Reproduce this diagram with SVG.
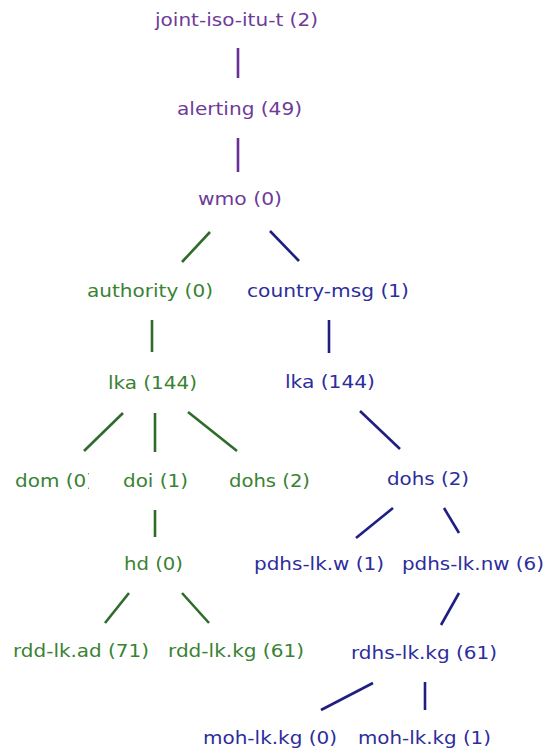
<svg xmlns="http://www.w3.org/2000/svg" width="554" height="752" viewBox="0 0 554 752">
<style>
text{font-family:"DejaVu Sans","Liberation Sans",sans-serif;font-size:17.5px;}
.p{fill:#6e3b98;}
.g{fill:#3a8233;}
.b{fill:#2d2d9c;}
.lp{stroke:#6a2e9a;stroke-width:2.6;fill:none;}
.lg{stroke:#2f6b2a;stroke-width:2.6;fill:none;}
.lb{stroke:#1f1f82;stroke-width:2.6;fill:none;}
</style>
<defs>
<clipPath id="domclip"><rect x="0" y="460" width="89" height="40"/></clipPath>
</defs>
<rect width="554" height="752" fill="#ffffff"/>
<g id="connectors">
<line class="lp" x1="238" y1="48" x2="238" y2="78"/>
<line class="lp" x1="238" y1="138" x2="238" y2="172"/>
<line class="lg" x1="210" y1="232" x2="182" y2="262"/>
<line class="lb" x1="270" y1="231" x2="299" y2="261"/>
<line class="lg" x1="152" y1="320" x2="152" y2="352"/>
<line class="lb" x1="329" y1="320" x2="329" y2="353"/>
<line class="lg" x1="123" y1="413" x2="84" y2="451"/>
<line class="lg" x1="155" y1="413" x2="155" y2="452"/>
<line class="lg" x1="188" y1="412" x2="237" y2="451"/>
<line class="lb" x1="360" y1="411" x2="400" y2="449"/>
<line class="lg" x1="155" y1="510" x2="155" y2="537"/>
<line class="lb" x1="393" y1="508" x2="356" y2="538"/>
<line class="lb" x1="444" y1="508" x2="459" y2="533"/>
<line class="lg" x1="129" y1="593" x2="105" y2="623"/>
<line class="lg" x1="182" y1="593" x2="209" y2="623"/>
<line class="lb" x1="459" y1="593" x2="441" y2="625"/>
<line class="lb" x1="373" y1="683" x2="321" y2="710"/>
<line class="lb" x1="425" y1="682" x2="425" y2="710"/>
</g>
<g id="joint-iso-itu-t"><text class="p" x="155" y="26" textLength="163" lengthAdjust="spacingAndGlyphs">joint-iso-itu-t (2)</text></g>
<g id="alerting"><text class="p" x="177" y="115" textLength="125" lengthAdjust="spacingAndGlyphs">alerting (49)</text></g>
<g id="wmo"><text class="p" x="198" y="205" textLength="84" lengthAdjust="spacingAndGlyphs">wmo (0)</text></g>
<g id="authority"><text class="g" x="87" y="297" textLength="126" lengthAdjust="spacingAndGlyphs">authority (0)</text></g>
<g id="country-msg"><text class="b" x="247" y="297" textLength="162" lengthAdjust="spacingAndGlyphs">country-msg (1)</text></g>
<g id="lka-green"><text class="g" x="108" y="389" textLength="89" lengthAdjust="spacingAndGlyphs">lka (144)</text></g>
<g id="lka-blue"><text class="b" x="285" y="388" textLength="90" lengthAdjust="spacingAndGlyphs">lka (144)</text></g>
<g id="dom"><text class="g" x="15" y="487" textLength="79" lengthAdjust="spacingAndGlyphs" clip-path="url(#domclip)">dom (0)</text></g>
<g id="doi"><text class="g" x="123" y="487" textLength="65" lengthAdjust="spacingAndGlyphs">doi (1)</text></g>
<g id="dohs-green"><text class="g" x="229" y="487" textLength="81" lengthAdjust="spacingAndGlyphs">dohs (2)</text></g>
<g id="dohs-blue"><text class="b" x="387" y="485" textLength="82" lengthAdjust="spacingAndGlyphs">dohs (2)</text></g>
<g id="hd"><text class="g" x="124" y="570" textLength="59" lengthAdjust="spacingAndGlyphs">hd (0)</text></g>
<g id="pdhs-lk.w"><text class="b" x="254" y="570" textLength="130" lengthAdjust="spacingAndGlyphs">pdhs-lk.w (1)</text></g>
<g id="pdhs-lk.nw"><text class="b" x="402" y="570" textLength="142" lengthAdjust="spacingAndGlyphs">pdhs-lk.nw (6)</text></g>
<g id="rdd-lk.ad"><text class="g" x="13" y="657" textLength="136" lengthAdjust="spacingAndGlyphs">rdd-lk.ad (71)</text></g>
<g id="rdd-lk.kg"><text class="g" x="168" y="657" textLength="136" lengthAdjust="spacingAndGlyphs">rdd-lk.kg (61)</text></g>
<g id="rdhs-lk.kg"><text class="b" x="351" y="659" textLength="146" lengthAdjust="spacingAndGlyphs">rdhs-lk.kg (61)</text></g>
<g id="moh-lk.kg-0"><text class="b" x="203" y="744" textLength="134" lengthAdjust="spacingAndGlyphs">moh-lk.kg (0)</text></g>
<g id="moh-lk.kg-1"><text class="b" x="358" y="744" textLength="133" lengthAdjust="spacingAndGlyphs">moh-lk.kg (1)</text></g>
</svg>
